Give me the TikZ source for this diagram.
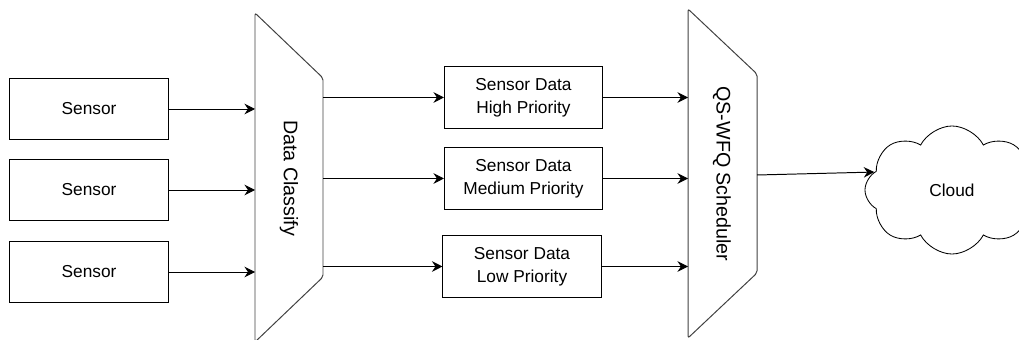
\documentclass[tikz,border=0pt]{standalone}
\usepackage{fontspec}
\setmainfont{Liberation Sans}
\usetikzlibrary{arrows.meta,shapes.symbols}

\tikzset{
  box/.style={draw, line width=0.7pt, minimum width=3.95cm, minimum height=1.53cm,
    inner sep=0pt, align=center, font=\fontsize{12.3}{16.4}\selectfont},
  mux/.style={draw=black!75, line width=0.7pt, rounded corners=1.5pt},
  muxlabel/.style={rotate=-90, font=\fontsize{14}{16}\selectfont},
  flow/.style={->, line width=0.7pt},
}

\begin{document}
\begin{tikzpicture}[x=0.025cm, y=-0.025cm, >={Stealth[length=7.5pt,width=7.5pt,inset=2.5pt]}]
    \useasboundingbox (0,0) rectangle (1019,340);

    % Sensors
    \node[box] (s1) at (89,109) {Sensor};
    \node[box] (s2) at (89,190) {Sensor};
    \node[box] (s3) at (89,272) {Sensor};

    % Classifier
    \draw[mux] (255,13) -- (323,78) -- (323,277) -- (255,342) -- cycle;
    \coordinate (dc-in) at (255,178);
    \coordinate (dc-out) at (323,178);
    \node[muxlabel] (dc) at (289,178) {Data Classify};

    % Priority queues
    \node[box] (p1) at (523.5,97.5) {Sensor Data\\High Priority};
    \node[box] (p2) at (523.5,178.5) {Sensor Data\\Medium Priority};
    \node[box] (p3) at (522,266.5) {Sensor Data\\Low Priority};

    % Scheduler
    \draw[mux] (688,9) -- (757,74) -- (757,273) -- (688,338) -- cycle;
    \coordinate (qs-in) at (688,174);
    \coordinate (qs-out) at (757,175);
    \node[muxlabel] (qs) at (722,174) {QS-WFQ Scheduler};

    % Cloud
    \node[cloud, draw, line width=0.6pt, cloud puffs=8, cloud puff arc=125,
          cloud ignores aspect, minimum width=4.35cm, minimum height=3.2cm,
          font=\fontsize{12.3}{14}\selectfont] (cloud) at (952,190) {Cloud};

    % Connections
    \foreach \s in {s1,s2,s3}
        \draw[flow] (\s.east) -- (\s.east -| dc-in);
    \foreach \p in {p1,p2,p3} {
        \draw[flow] (\p.west -| dc-out) -- (\p.west);
        \draw[flow] (\p.east) -- (\p.east -| qs-in);
    }
    \draw[flow] (qs-out) -- (cloud.167);
\end{tikzpicture}
\end{document}
